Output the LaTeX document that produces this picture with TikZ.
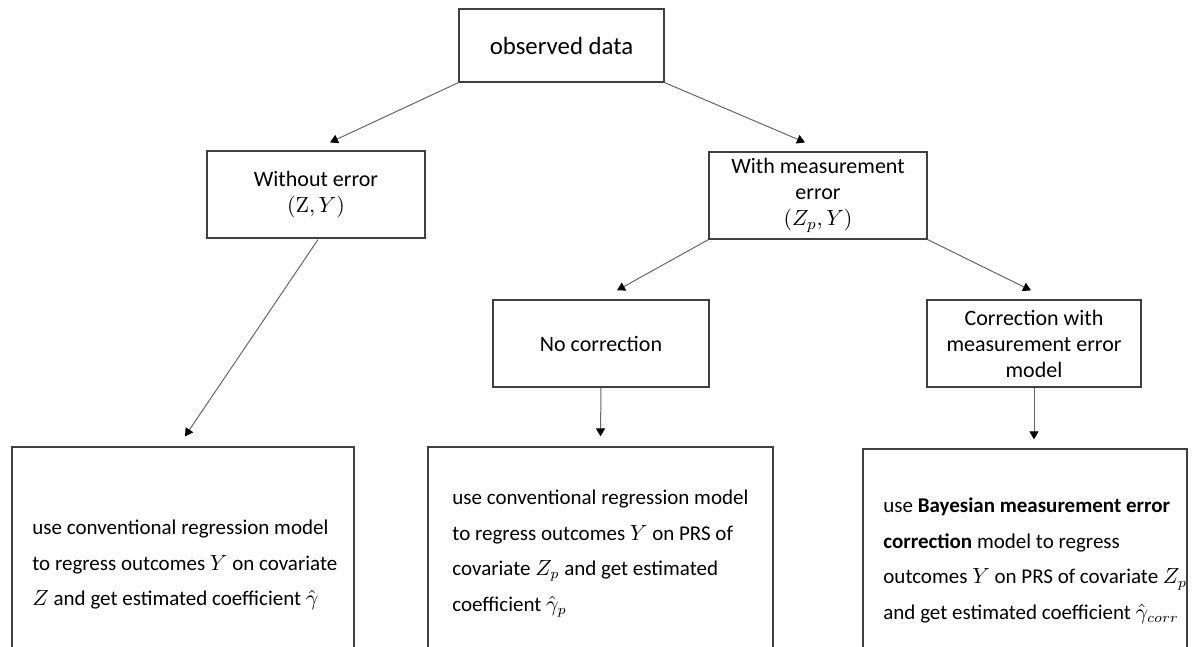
\documentclass[tikz,border=0pt]{standalone}
\usepackage[no-math]{fontspec}
\setmainfont{Carlito}
\usetikzlibrary{arrows.meta,calc}
\tikzset{
  box/.style={draw=black!75, line width=0.6pt, inner sep=0pt},
  boxtext/.style={font=\fontsize{11}{13}\selectfont, align=center},
  bodytext/.style={font=\fontsize{10.5}{17.75}\selectfont, align=left, anchor=west, inner sep=0pt},
  conn/.style={draw=black!60, line width=0.5pt, -{Triangle[length=4pt,width=4.5pt,color=black]}}
}
\begin{document}
\begin{tikzpicture}[x=0.5pt,y=-0.5pt]
\useasboundingbox (0,0) rectangle (1200,647);
\clip (0,0) rectangle (1200,647);
% upper boxes
\node[box, minimum width=102.5pt, minimum height=36.5pt, font=\fontsize{12.4}{15}\selectfont] (obs) at (561.5,45.5) {observed data};
\node[box, boxtext, minimum width=109pt, minimum height=43.5pt] (woe) at (316,194.5) {Without error\\$(\mathrm{Z},Y)$};
\node[box, boxtext, minimum width=109pt, minimum height=43.5pt] (wme) at (818,195.5) {With measurement\\error\\$(Z_p,Y)$};
\node[box, boxtext, minimum width=108pt, minimum height=43.5pt] (noc) at (601,343.5) {No correction};
\node[box, boxtext, minimum width=107pt, minimum height=43.5pt] (cor) at (1034,343.5) {Correction with\\measurement error\\model};
% bottom boxes (cut off by the page bottom)
\node[box, minimum width=171pt, minimum height=118pt] (b1) at (183,565) {};
\node[box, minimum width=172.5pt, minimum height=106.5pt] (b2) at (600.5,553.5) {};
\node[box, minimum width=162pt, minimum height=112pt] (b3) at (1025,561) {};
\node[bodytext] (t1) at (32,565) {use conventional regression model\\to regress outcomes $Y$ on covariate\\$Z$ and get estimated coefficient $\hat{\gamma}$};
\node[bodytext] (t2) at (452,553.5) {use conventional regression model\\to regress outcomes $Y$ on PRS of\\covariate $Z_p$ and get estimated\\coefficient $\hat{\gamma}_p$};
\node[bodytext] (t3) at (883,561) {use \textbf{Bayesian measurement error}\\\textbf{correction} model to regress\\outcomes $Y$ on PRS of covariate $Z_p$\\and get estimated coefficient $\hat{\gamma}_{corr}$};
% connectors
\draw[conn] (obs.south west) -- ($(woe.north)+(14,-8)$);
\draw[conn] (obs.south east) -- ($(wme.north)+(-13,-9)$);
\draw[conn] (wme.south west) -- ($(noc.north)+(16,-9)$);
\draw[conn] (wme.south east) -- ($(cor.north)+(-3,-9)$);
\draw[conn] ($(woe.south)+(2,1)$) -- ($(b1.north)+(2,-10)$);
\draw[conn] (noc.south) -- ($(b2.north)+(0,-10)$);
\draw[conn] (cor.south) -- ($(b3.north)+(9,-9)$);
\end{tikzpicture}
\end{document}
